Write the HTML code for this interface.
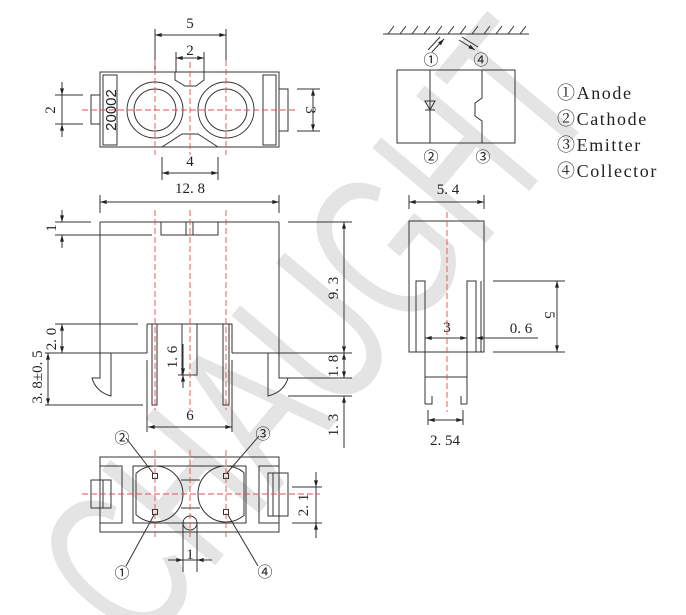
<!DOCTYPE html>
<html><head><meta charset="utf-8"><style>
html,body{margin:0;padding:0;background:#fff;overflow:hidden;width:686px;height:615px}
svg{display:block}
.s{font-family:"Liberation Serif","Noto Serif CJK SC",serif;fill:#222}
.n{font-family:"Liberation Sans","Noto Sans CJK SC",sans-serif;fill:#222}
.m{font-family:"Liberation Serif","Noto Serif CJK SC",serif;fill:#222;letter-spacing:1.6px}
</style></head><body>
<svg width="686" height="615" viewBox="0 0 686 615" xmlns="http://www.w3.org/2000/svg">
<defs>
<marker id="a" viewBox="0 0 10 6" refX="10" refY="3" markerWidth="7" markerHeight="4" orient="auto-start-reverse"><path d="M0,0L10,3L0,6z" fill="#222"/></marker>
</defs>
<text x="0" y="0" transform="translate(140,655) rotate(-50)" font-size="215" textLength="720" lengthAdjust="spacingAndGlyphs" style="font-family:'Liberation Sans',sans-serif;fill:#e4e4e4">CHAUGHT</text>

<g stroke="#333" stroke-width="1" fill="none">
<rect x="100" y="72" width="179" height="75"/>
<rect x="103" y="75" width="14" height="70"/>
<rect x="263" y="75" width="13" height="70"/>
<rect x="91" y="95" width="9" height="29"/>
<rect x="279" y="89" width="9" height="42"/>
<circle cx="155" cy="110" r="28"/><circle cx="155" cy="110" r="21"/>
<circle cx="226" cy="110" r="28"/><circle cx="226" cy="110" r="21"/>
<path d="M175,72V80L185,86H196L204,80V72"/>
<path d="M162,147L182,134H198L218,147"/>
<path d="M155,29V72M226,29V60M176,52V72M204,52V72"/>
<path d="M155,35H226" marker-start="url(#a)" marker-end="url(#a)"/>
<path d="M176,58H204" marker-start="url(#a)" marker-end="url(#a)"/>
<path d="M55,95H83M55,124H83"/>
<path d="M62,82V95" marker-end="url(#a)"/><path d="M62,137V124" marker-end="url(#a)"/><path d="M62,95V124"/>
<path d="M297,89H320M297,131H320"/>
<path d="M313,89V131" marker-start="url(#a)" marker-end="url(#a)"/>
<path d="M162,157V180M218,157V180"/>
<path d="M162,173H218" marker-start="url(#a)" marker-end="url(#a)"/>

<path d="M100,195V213M279,195V213"/>
<path d="M100,202H279" marker-start="url(#a)" marker-end="url(#a)"/>
<path d="M100,222H279M100,222V378H92Q96,392 111,396V353M279,222V378H288Q284,392 268,396V353"/>
<path d="M45,353H100M279,353H352"/>
<path d="M100,353H147M232,353H279"/>
<path d="M161,222V235H218V222M186,222V235M193,222V235"/>
<path d="M55,222H91M55,235H152"/>
<path d="M62,210V222" marker-end="url(#a)"/><path d="M62,248V235" marker-end="url(#a)"/>
<path d="M147,324H232V353M147,324V353"/>
<path d="M152,324V405H157V324M223,324V405H229V324"/>
<path d="M182,324V375H197V324M178,375H182"/>
<path d="M183,344V375" marker-end="url(#a)"/><path d="M183,388V375" marker-end="url(#a)"/>
<path d="M147,360V432M232,360V432"/>
<path d="M148,427H232" marker-start="url(#a)" marker-end="url(#a)"/>
<path d="M55,324H138"/>
<path d="M62,324V353" marker-start="url(#a)" marker-end="url(#a)"/>
<path d="M45,405H143"/>
<path d="M48,353V405" marker-start="url(#a)" marker-end="url(#a)"/>
<path d="M288,222H352M288,378H352M288,396H352"/>
<path d="M344,222V353" marker-start="url(#a)" marker-end="url(#a)"/>
<path d="M344,353V378" marker-start="url(#a)" marker-end="url(#a)"/>
<path d="M344,396V448" marker-start="url(#a)"/>

<rect x="100" y="457" width="179" height="75"/>
<rect x="133" y="466" width="113" height="57"/>
<path d="M100,466H122V523H100M279,466H259V523H279"/>
<rect x="91" y="480" width="20" height="28"/><path d="M103,480V508"/>
<rect x="268" y="473" width="20" height="43"/><path d="M273,473V516"/>
<path d="M136,473.4A28,28 0 1 1 136,514.6V473.4"/>
<path d="M244,472.6A28,28 0 1 0 244,515.4V472.6"/>
<path d="M181,480H200M181,508H200"/>
<circle cx="190" cy="523" r="7"/>
<rect x="152.5" y="473.5" width="5" height="5"/><rect x="152.5" y="509.5" width="5" height="5"/>
<rect x="223.5" y="473.5" width="5" height="5"/><rect x="223.5" y="509.5" width="5" height="5"/>
<path d="M126,438L153,473M259,436L227,473M126,566L154,515M258,566L228,515"/>
<path d="M183,523V572M197,523V572"/>
<path d="M168,560H183" marker-end="url(#a)"/><path d="M212,560H197" marker-end="url(#a)"/><path d="M183,560H197"/>
<path d="M292,487H322M292,523H322"/>
<path d="M316,472V487" marker-end="url(#a)"/><path d="M316,538V523" marker-end="url(#a)"/><path d="M316,487V523"/>

<path d="M383,34H529"/>
<path d="M388,34l6,-8M400,34l6,-8M412,34l6,-8M424,34l6,-8M436,34l6,-8M448,34l6,-8M460,34l6,-8M472,34l6,-8M484,34l6,-8M496,34l6,-8M508,34l6,-8M520,34l6,-8"/>
<path d="M428,50L440,37M432,52L444,39" marker-end="url(#a)"/>
<path d="M462,37L478,47M459,40L475,50" marker-end="url(#a)"/>
<rect x="397" y="70" width="118" height="73"/>
<path d="M430,70V143M482,70V98L475,103V116L482,121V143"/>
<path d="M425,101H435L430,110Z M425,110H435"/>
<path d="M409,195V209M484,195V209"/>
<path d="M409,202H484" marker-start="url(#a)" marker-end="url(#a)"/>
<rect x="409" y="221" width="75" height="131"/>
<path d="M416,352V281H425V404M467,404V281H476V352M481,281V352"/>
<path d="M425,377H467M425,404H432V396M467,404H461V396"/>
<path d="M428,410V425M463,410V425"/>
<path d="M428,420H463" marker-start="url(#a)" marker-end="url(#a)"/>
<path d="M425,338H467" marker-start="url(#a)" marker-end="url(#a)"/>
<path d="M538,338H476" marker-end="url(#a)"/>
<path d="M493,281H565M493,352H565"/>
<path d="M557,281V352" marker-start="url(#a)" marker-end="url(#a)"/>
</g>

<g stroke="#e05050" stroke-width="0.9" stroke-dasharray="6,3" fill="none">
<path d="M155,60V155M190,62V155M226,60V155M82,110H297"/>
<path d="M155,210V410M190,210V410M226,210V410"/>
<path d="M155,450V540M190,450V540M226,450V540M82,494H320"/>
<path d="M447,212V412"/>
</g>

<g font-size="15" text-anchor="middle">
<text class="s" x="190" y="28">5</text>
<text class="s" x="190" y="55">2</text>
<text class="s" x="190" y="166">4</text>
<text class="s" x="190" y="193">12. 8</text>
<text class="s" x="190" y="420">6</text>
<text class="s" x="190" y="559">1</text>
<text class="s" x="448" y="194">5. 4</text>
<text class="s" x="447" y="332">3</text>
<text class="s" x="521" y="333">0. 6</text>
<text class="s" x="445" y="445">2. 54</text>
<text class="s" transform="translate(55,110) rotate(-90)">2</text>
<text class="s" transform="translate(306,110) rotate(90)">3</text>
<text class="s" transform="translate(56,228) rotate(-90)">1</text>
<text class="s" transform="translate(56,339) rotate(-90)">2. 0</text>
<text class="s" transform="translate(42,377) rotate(-90)">3. 8±0. 5</text>
<text class="s" transform="translate(177,357) rotate(-90)">1. 6</text>
<text class="s" transform="translate(338,288) rotate(-90)">9. 3</text>
<text class="s" transform="translate(338,366) rotate(-90)">1. 8</text>
<text class="s" transform="translate(338,425) rotate(-90)">1. 3</text>
<text class="s" transform="translate(308,505) rotate(-90)">2. 1</text>
<text class="s" transform="translate(545,315) rotate(90)">5</text>
<text class="n" transform="translate(116,110) rotate(-90)">20002</text>
<text class="n" x="431" y="65">①</text><text class="n" x="481" y="65">④</text>
<text class="n" x="431" y="162">②</text><text class="n" x="483" y="162">③</text>
<text class="n" x="122" y="443">②</text><text class="n" x="263" y="439">③</text>
<text class="n" x="122" y="578">①</text><text class="n" x="265" y="577">④</text>
</g>
<g font-size="18">
<text class="m" x="557" y="99">①Anode</text>
<text class="m" x="557" y="125">②Cathode</text>
<text class="m" x="557" y="151">③Emitter</text>
<text class="m" x="557" y="177">④Collector</text>
</g>
</svg>
</body></html>
